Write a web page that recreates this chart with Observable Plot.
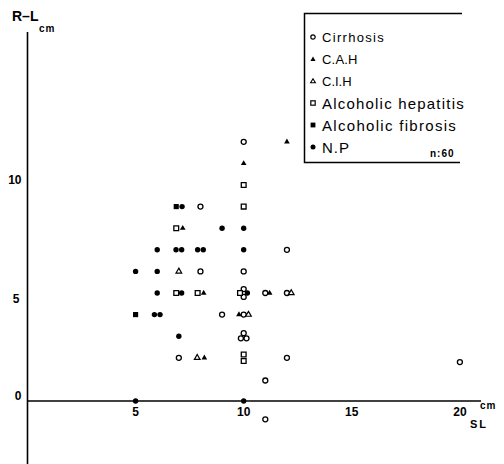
<!DOCTYPE html>
<html><head><meta charset="utf-8">
<script src="https://cdn.jsdelivr.net/npm/d3@7"></script>
<script src="https://cdn.jsdelivr.net/npm/@observablehq/plot@0.6"></script>
<style>
body{margin:0;background:#fff;font-family:"Liberation Sans",Arial,sans-serif;color:#000;}
#wrap{position:relative;width:504px;height:464px;overflow:hidden;}
#wrap > svg{position:absolute;left:0;top:0;}
.lbl{position:absolute;white-space:nowrap;line-height:1;}
#wrap .lgrow{position:absolute;left:308px;height:20px;display:flex;align-items:center;white-space:nowrap;}
#wrap .lgrow svg{position:static;margin-right:4px;flex:none;}
</style></head><body>
<div id="wrap"></div>
<script>
// Data (x = SL cm, y = R–L cm)
const cirrhosis = [[10,12],[8,9],[12,7],[10,6],[8,6],[10,5.18],[10,4.82],[11,5],[12,5],[9,4],[10,4],[9.87,2.9],[10.13,2.9],[10,3.14],[7,2],[12,2],[20,1.8],[11,0.95],[11,-0.85]];
const cah = [[12,12],[10,11],[7.18,8],[8.15,5],[11.2,5],[9.78,4],[8.18,2]];
const cih = [[7,6],[12.2,5],[10.22,4],[7.85,2]];
const alcHepatitis = [[10,10],[10,9],[6.88,8],[6.88,5],[7.87,5],[9.83,5],[10,2.15],[10,1.85]];
const alcFibrosis = [[6.88,9],[5,4]];
const np = [[7.15,9],[9,8],[10,8],[6,7],[6.87,7],[7.13,7],[7.87,7],[8.13,7],[10,7],[5,6],[6,6],[6,5],[7.13,5],[10.17,5],[5.87,4],[6.13,4],[7,3],[5,0],[10,0]];
const xTicks = [5,10,15,20];
const yTicks = [0,5,10];
const legendLabels = ["Cirrhosis","C.A.H","C.I.H","Alcoholic hepatitis","Alcoholic fibrosis","N.P"];

const px = d => d[0], py = d => d[1];
const font = "Liberation Sans, Arial, sans-serif";

const plot = Plot.plot({
  width: 504, height: 464,
  marginLeft: 27, marginRight: 23, marginTop: 32, marginBottom: 0,
  style: {background: "transparent", fontFamily: font},
  x: {domain: [0, 21], axis: null},
  y: {domain: [-2.94, 17.06], axis: null},
  marks: [
    Plot.ruleY([0], {stroke: "#000", strokeWidth: 1.6}),
    Plot.ruleX([0], {stroke: "#000", strokeWidth: 1.6}),
    Plot.text(xTicks, {x: d => d, y: 0, text: d => String(d), dy: 11, fontSize: 12, fontWeight: "bold", fill: "#000", style: "letter-spacing:2px"}),
    Plot.text(yTicks.filter(d => d !== 5), {x: 0, y: d => d, text: d => String(d), dx: -6, dy: -5, textAnchor: "end", fontSize: 12, fontWeight: "bold", fill: "#000"}),
    Plot.text(yTicks.filter(d => d === 5), {x: 0, y: d => d, text: d => String(d), dx: -8, dy: 6, textAnchor: "end", fontSize: 12, fontWeight: "bold", fill: "#000"}),
    Plot.dot(cirrhosis, {x: px, y: py, symbol: "circle", r: 2.5, stroke: "#000", strokeWidth: 1.3, fill: "#fff"}),
    Plot.dot(alcHepatitis, {x: px, y: py, symbol: "square", r: 2.7, stroke: "#000", strokeWidth: 1.3, fill: "#fff"}),
    Plot.dot(cih, {x: px, y: py, symbol: "triangle", r: 2.1, stroke: "#000", strokeWidth: 1.2, fill: "#fff"}),
    Plot.dot(cah, {x: px, y: py, symbol: "triangle", r: 2.1, fill: "#000", stroke: "none"}),
    Plot.dot(alcFibrosis, {x: px, y: py, symbol: "square", r: 2.9, fill: "#000", stroke: "none"}),
    Plot.dot(np, {x: px, y: py, symbol: "circle", r: 2.7, fill: "#000", stroke: "none"})
  ]
});

const wrap = document.getElementById("wrap");
wrap.appendChild(plot);

function lbl(text, left, top, css) {
  const d = document.createElement("div");
  d.className = "lbl";
  d.textContent = text;
  d.style.left = left + "px"; d.style.top = top + "px";
  d.style.cssText += css;
  wrap.appendChild(d);
}
lbl("R\u2013L", 12, 9, "font-size:14px;font-weight:bold;");
lbl("cm", 39, 24, "font-size:10px;font-weight:bold;letter-spacing:1px;");
lbl("cm", 480, 401, "font-size:10px;font-weight:bold;letter-spacing:1px;");
lbl("SL", 470, 419, "font-size:11px;font-weight:bold;letter-spacing:2px;");

const icons = [
  '<circle cx="5" cy="5" r="2.2" fill="#fff" stroke="#000" stroke-width="1.2"/>',
  '<path d="M5 2.5 L7.6 7 L2.4 7 Z" fill="#000"/>',
  '<path d="M5 2.8 L7.4 6.8 L2.6 6.8 Z" fill="#fff" stroke="#000" stroke-width="1.1"/>',
  '<rect x="2.8" y="2.8" width="4.4" height="4.4" fill="#fff" stroke="#000" stroke-width="1.2"/>',
  '<rect x="2.6" y="2.6" width="4.8" height="4.8" fill="#000"/>',
  '<circle cx="5" cy="5" r="2.5" fill="#000"/>'
];
const rowCss = [
  "font-size:13px;letter-spacing:1.3px;",
  "font-size:13px;letter-spacing:0.2px;",
  "font-size:13px;letter-spacing:0px;",
  "font-size:15px;letter-spacing:1.2px;",
  "font-size:15px;letter-spacing:1.3px;",
  "font-size:15px;letter-spacing:1px;"
];
const rowCenters = [37, 59, 81, 103, 125, 147];
legendLabels.forEach((t, i) => {
  const r = document.createElement("div");
  r.className = "lgrow";
  r.style.top = (rowCenters[i] - 10) + "px";
  r.innerHTML = '<svg width="10" height="10" viewBox="0 0 10 10">' + icons[i] + '</svg><span style="' + rowCss[i] + '"></span>';
  r.querySelector("span").textContent = t;
  wrap.appendChild(r);
});
lbl("n:60", 430, 149, "font-size:10px;font-weight:bold;letter-spacing:1px;");

// legend frame: top, left and bottom sides only (open on the right, as in the reference)
const ns = "http://www.w3.org/2000/svg";
const frame = document.createElementNS(ns, "svg");
frame.setAttribute("width", "504"); frame.setAttribute("height", "464");
frame.style.cssText = "position:absolute;left:0;top:0;pointer-events:none;";
const path = document.createElementNS(ns, "path");
path.setAttribute("d", "M462,13.5 H304.5 V162.5 H460");
path.setAttribute("fill", "none"); path.setAttribute("stroke", "#000"); path.setAttribute("stroke-width", "1.5");
frame.appendChild(path);
const mask = document.createElementNS(ns, "rect");
mask.setAttribute("x", "464"); mask.setAttribute("y", "12"); mask.setAttribute("width", "6"); mask.setAttribute("height", "152");
mask.setAttribute("fill", "#fff");
frame.appendChild(mask);
wrap.appendChild(frame);
</script>
</body></html>
